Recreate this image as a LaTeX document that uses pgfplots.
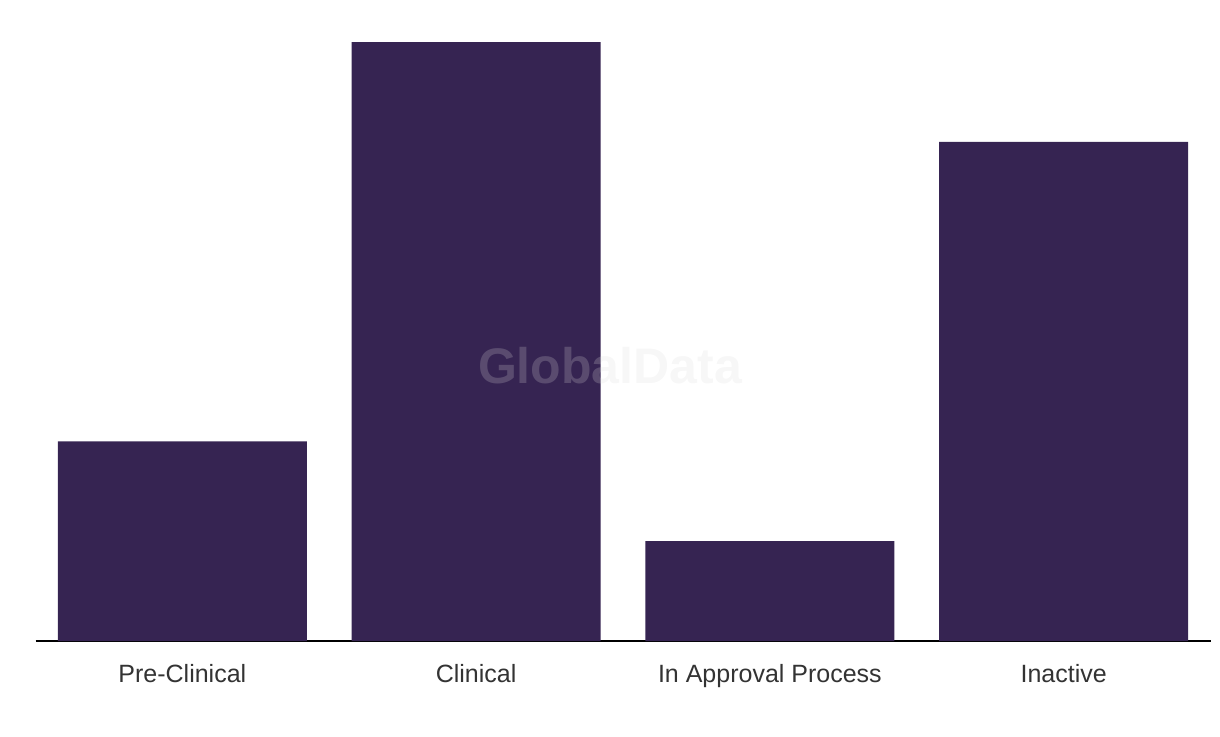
\documentclass[border=0pt]{standalone}
\usepackage{pgfplots}
\pgfplotsset{compat=1.18}
\usepackage{fontspec}
\setmainfont{Liberation Sans}
\definecolor{barpurple}{HTML}{362452}
\definecolor{baseline}{HTML}{1C1433}
\definecolor{labelgray}{HTML}{333333}
\definecolor{wm}{HTML}{DADADA}
\begin{document}
\begin{tikzpicture}
\path[use as bounding box] (0,0) rectangle (610pt,368pt);
\begin{axis}[
    at={(17.75pt,47.5pt)}, anchor=south west,
    scale only axis,
    width=587.5pt, height=299.5pt,
    ybar, bar width=124.5pt,
    xmin=-0.5, xmax=3.5,
    ymin=0, ymax=6,
    axis y line=none,
    axis x line*=bottom,
    x axis line style={baseline, line width=1pt, -},
    xtick=data,
    xticklabels={Pre-Clinical, Clinical, In Approval Process, Inactive},
    xtick style={draw=none},
    x tick label style={font=\fontsize{12.5}{15}\selectfont, text=labelgray, yshift=-4pt},
    clip=false,
]
\addplot[fill=barpurple, draw=none] coordinates {(0,2) (1,6) (2,1) (3,5)};
\end{axis}
\node[font=\fontsize{25}{30}\selectfont\bfseries, text=wm, opacity=0.22] at (305pt,185pt) {GlobalData};
\end{tikzpicture}
\end{document}
